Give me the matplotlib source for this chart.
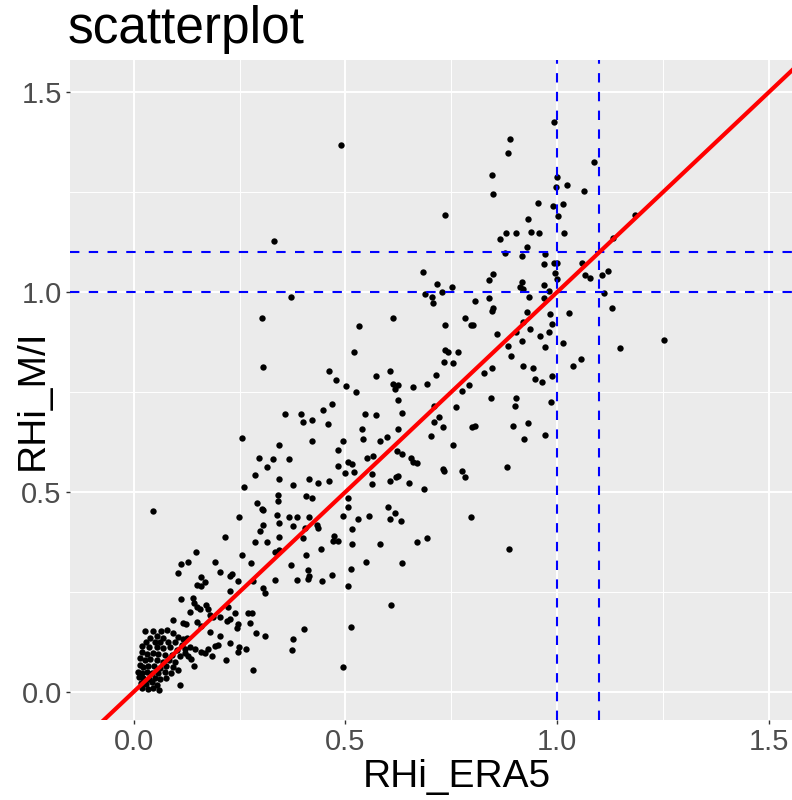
import matplotlib.pyplot as plt

plt.rcParams['font.family'] = ['Liberation Sans', 'DejaVu Sans']

# RHi_ERA5 (x) vs RHi_M/I (y)
low_x = [0.111, 0.128, 0.191, 0.276, 0.104, 0.203, 0.232, 0.227, 0.158, 0.169,
         0.150, 0.158, 0.245, 0.282, 0.304, 0.310, 0.227, 0.111, 0.139, 0.142,
         0.150, 0.170, 0.156, 0.176, 0.132, 0.180, 0.188, 0.223, 0.239, 0.203,
         0.219, 0.227, 0.269, 0.278, 0.274, 0.245, 0.244, 0.093, 0.115, 0.123,
         0.150, 0.158, 0.180, 0.288, 0.310, 0.203, 0.227, 0.249, 0.265, 0.245,
         0.176, 0.185, 0.191, 0.199, 0.168, 0.158, 0.128, 0.136, 0.217, 0.142,
         0.281, 0.109, 0.060,
         0.371, 0.333, 0.385, 0.412, 0.414, 0.412, 0.444, 0.469, 0.513, 0.548,
         0.634, 0.505, 0.608, 0.403, 0.513, 0.377, 0.374, 0.494]
low_y = [0.320, 0.325, 0.325, 0.321, 0.296, 0.300, 0.295, 0.290, 0.288, 0.275,
         0.267, 0.265, 0.278, 0.278, 0.259, 0.248, 0.253, 0.232, 0.235, 0.223,
         0.213, 0.217, 0.207, 0.206, 0.200, 0.192, 0.186, 0.213, 0.198, 0.188,
         0.177, 0.181, 0.198, 0.198, 0.171, 0.169, 0.159, 0.179, 0.173, 0.169,
         0.175, 0.164, 0.150, 0.146, 0.139, 0.139, 0.121, 0.111, 0.106, 0.100,
         0.106, 0.089, 0.114, 0.117, 0.096, 0.100, 0.088, 0.081, 0.078, 0.064,
         0.054, 0.016, 0.004,
         0.317, 0.279, 0.279, 0.305, 0.290, 0.282, 0.276, 0.293, 0.308, 0.325,
         0.321, 0.264, 0.218, 0.157, 0.163, 0.131, 0.105, 0.062]

cluster_x = [0.026, 0.044, 0.063, 0.079, 0.093, 0.105, 0.115, 0.126, 0.055, 0.069,
             0.038, 0.028, 0.050, 0.061, 0.081, 0.097, 0.113, 0.020, 0.036, 0.054,
             0.069, 0.085, 0.101, 0.121, 0.132, 0.144, 0.018, 0.030, 0.044, 0.058,
             0.073, 0.089, 0.109, 0.121, 0.014, 0.026, 0.038, 0.054, 0.068, 0.084,
             0.097, 0.014, 0.022, 0.034, 0.047, 0.061, 0.077, 0.093, 0.105, 0.010,
             0.018, 0.030, 0.042, 0.058, 0.073, 0.087, 0.013, 0.022, 0.036, 0.050,
             0.061, 0.076, 0.016, 0.028, 0.042, 0.054, 0.020, 0.034, 0.046]
cluster_y = [0.153, 0.152, 0.152, 0.154, 0.148, 0.138, 0.131, 0.134, 0.139, 0.134,
             0.134, 0.125, 0.125, 0.123, 0.125, 0.123, 0.117, 0.114, 0.111, 0.111,
             0.108, 0.111, 0.104, 0.106, 0.111, 0.106, 0.098, 0.094, 0.096, 0.094,
             0.092, 0.092, 0.089, 0.096, 0.083, 0.079, 0.081, 0.079, 0.075, 0.079,
             0.075, 0.067, 0.061, 0.064, 0.064, 0.058, 0.063, 0.061, 0.054, 0.050,
             0.046, 0.048, 0.046, 0.046, 0.048, 0.046, 0.036, 0.033, 0.031, 0.033,
             0.031, 0.033, 0.021, 0.019, 0.023, 0.017, 0.008, 0.006, 0.008]

mid_x = [0.256, 0.295, 0.314, 0.286, 0.259, 0.046, 0.292, 0.302, 0.306, 0.248,
         0.306, 0.299, 0.215, 0.286, 0.315, 0.147, 0.256,
         0.357, 0.396, 0.545, 0.572, 0.633, 0.399, 0.422, 0.458, 0.538, 0.625,
         0.541, 0.422, 0.493, 0.582, 0.597, 0.483, 0.344, 0.328, 0.366, 0.552,
         0.564, 0.621, 0.634, 0.654, 0.660, 0.668, 0.505, 0.515, 0.483, 0.499,
         0.519, 0.562, 0.605, 0.619, 0.625, 0.649, 0.686, 0.344, 0.377, 0.414,
         0.434, 0.461, 0.562, 0.341, 0.341, 0.407, 0.422, 0.507, 0.507, 0.600,
         0.617, 0.605, 0.630, 0.556, 0.529, 0.337, 0.367, 0.385, 0.414, 0.344,
         0.377, 0.404, 0.432, 0.434, 0.493, 0.515, 0.344, 0.399, 0.474, 0.471,
         0.483, 0.515, 0.582, 0.668, 0.692, 0.442, 0.344, 0.333, 0.407, 0.448,
         0.709, 0.722, 0.731, 0.702, 0.753, 0.798, 0.806, 0.895, 0.931, 0.972,
         0.923, 0.730, 0.733, 0.775, 0.783, 0.881, 0.797, 0.887]
mid_y = [0.634, 0.586, 0.562, 0.542, 0.513, 0.452, 0.473, 0.458, 0.455, 0.438,
         0.417, 0.403, 0.388, 0.374, 0.374, 0.350, 0.342,
         0.695, 0.695, 0.695, 0.693, 0.698, 0.674, 0.680, 0.669, 0.657, 0.657,
         0.632, 0.628, 0.628, 0.628, 0.638, 0.605, 0.617, 0.582, 0.582, 0.586,
         0.591, 0.603, 0.594, 0.586, 0.576, 0.572, 0.574, 0.570, 0.565, 0.548,
         0.551, 0.544, 0.526, 0.538, 0.540, 0.521, 0.507, 0.532, 0.516, 0.532,
         0.521, 0.527, 0.520, 0.492, 0.476, 0.490, 0.484, 0.484, 0.461, 0.461,
         0.446, 0.431, 0.427, 0.440, 0.432, 0.441, 0.438, 0.438, 0.438, 0.423,
         0.415, 0.409, 0.417, 0.409, 0.440, 0.406, 0.386, 0.384, 0.390, 0.377,
         0.377, 0.369, 0.369, 0.374, 0.384, 0.357, 0.355, 0.350, 0.342, 0.705,
         0.676, 0.687, 0.663, 0.640, 0.617, 0.663, 0.666, 0.666, 0.672, 0.642,
         0.632, 0.557, 0.553, 0.553, 0.536, 0.562, 0.438, 0.356]

upper_x = [0.682, 0.688, 0.371, 0.612, 0.532, 0.521, 0.461, 0.478, 0.502, 0.526,
           0.571, 0.606, 0.612, 0.625, 0.617, 0.623, 0.660, 0.692, 0.469,
           0.877, 0.916, 0.972, 0.969, 0.993, 0.999, 0.995, 0.999, 0.848, 0.840,
           0.717, 0.751, 0.727, 0.916, 0.913, 0.920, 0.969, 0.980, 0.704, 0.706,
           0.805, 0.838, 0.934, 0.969, 0.849, 0.846, 0.928, 0.983, 0.919, 0.935,
           0.989, 0.783, 0.796, 0.802, 0.734, 0.857, 0.903, 0.960, 0.980, 0.735,
           0.743, 0.767, 0.733, 0.753, 0.883, 0.916, 0.972, 0.891, 1.015, 1.027,
           0.846, 0.827, 0.920, 0.942, 0.714, 0.792, 0.775, 0.948, 0.964, 0.989,
           0.843, 0.903, 0.901, 0.985, 0.709, 0.761,
           1.058, 1.066, 1.078, 1.106, 1.121, 1.110, 1.129, 1.149, 1.253, 1.056,
           1.037]
upper_y = [1.051, 0.995, 0.987, 0.935, 0.915, 0.851, 0.803, 0.779, 0.765, 0.750,
           0.791, 0.803, 0.770, 0.768, 0.757, 0.730, 0.762, 0.770, 0.721,
           1.097, 1.091, 1.095, 1.070, 1.074, 1.072, 1.049, 1.032, 1.045, 1.030,
           1.020, 1.014, 1.001, 1.025, 1.012, 1.007, 1.018, 1.004, 0.989, 0.974,
           0.978, 0.985, 0.987, 0.985, 0.960, 0.953, 0.950, 0.945, 0.926, 0.908,
           0.920, 0.935, 0.918, 0.918, 0.918, 0.895, 0.899, 0.891, 0.899, 0.855,
           0.849, 0.851, 0.824, 0.822, 0.864, 0.878, 0.862, 0.839, 0.872, 0.947,
           0.811, 0.798, 0.814, 0.811, 0.793, 0.768, 0.753, 0.783, 0.774, 0.790,
           0.736, 0.736, 0.715, 0.724, 0.715, 0.713,
           1.074, 1.043, 1.036, 1.043, 1.054, 0.997, 0.961, 0.859, 0.880, 0.832,
           0.816]

top_x = [0.993, 0.889, 0.883, 0.846, 0.848, 0.734, 0.999, 0.998, 1.023, 0.954,
         0.990, 1.015, 1.001, 0.932, 0.879, 0.903, 0.939, 0.957, 1.017, 0.865,
         0.928, 1.088, 1.064, 1.184, 1.131, 0.489, 0.331, 0.303, 0.305]
top_y = [1.427, 1.383, 1.349, 1.293, 1.245, 1.193, 1.287, 1.262, 1.268, 1.222,
         1.216, 1.220, 1.191, 1.182, 1.149, 1.147, 1.150, 1.147, 1.147, 1.132,
         1.114, 1.326, 1.254, 1.193, 1.136, 1.368, 1.128, 0.935, 0.813]

ref_lines = [1.0, 1.1]

era5 = low_x + cluster_x + mid_x + upper_x + top_x
mi = low_y + cluster_y + mid_y + upper_y + top_y

fig = plt.figure(figsize=(7.92, 8.0), dpi=100)
# panel runs a bit past the right edge, as in the cropped original
ax = fig.add_axes([70 / 792, 80 / 800, 774 / 792, 660 / 800])
ax.set_facecolor('#EBEBEB')
for s in ax.spines.values():
    s.set_visible(False)

ax.set_xlim(-0.151, 1.678)
ax.set_ylim(-0.071, 1.581)
ax.set_xticks([0.0, 0.5, 1.0, 1.5])
ax.set_yticks([0.0, 0.5, 1.0, 1.5])
ax.set_xticks([0.25, 0.75, 1.25], minor=True)
ax.set_yticks([0.25, 0.75, 1.25], minor=True)
ax.set_xticklabels(['0.0', '0.5', '1.0', '1.5'])
ax.set_yticklabels(['0.0', '0.5', '1.0', '1.5'])
ax.grid(which='major', color='white', lw=1.4)
ax.grid(which='minor', color='white', lw=0.7)
ax.set_axisbelow(True)
ax.tick_params(which='major', length=3, width=1.0, color='#333333',
               labelsize=21, labelcolor='#4D4D4D', pad=3)
ax.tick_params(which='minor', length=0)

ax.scatter(era5, mi, s=21, c='black', linewidths=0, zorder=3)

for v in ref_lines:
    ax.axvline(v, color='blue', lw=1.5, dashes=(4.5, 4.5), zorder=4)
    ax.axhline(v, color='blue', lw=1.5, dashes=(4.5, 4.5), zorder=4)

ax.axline((0, 0), slope=1, color='red', lw=3, zorder=5)

fig.text(68 / 792, 1 - 30 / 800, 'scatterplot', fontsize=37, ha='left', va='center')
ax.set_xlabel('RHi_ERA5', fontsize=28, labelpad=2)
fig.text(33 / 792, 1 - 400 / 800, 'RHi_M/I', fontsize=28, rotation=90,
         ha='center', va='center')

fig.savefig('out.png', dpi=100)
